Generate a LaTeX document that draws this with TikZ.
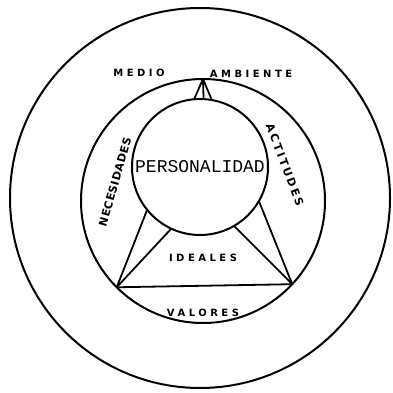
\documentclass[tikz,border=0pt]{standalone}
\usepackage{fontspec}
\newfontfamily\persfont{Liberation Mono}
\newfontfamily\capsfont[LetterSpace=35]{DejaVu Sans}
\newfontfamily\handfont[LetterSpace=5]{DejaVu Sans}
\newfontfamily\widehandfont[LetterSpace=20]{DejaVu Sans}
\begin{document}
\begin{tikzpicture}[x=1pt,y=-1pt,
    ring/.style={draw, circle, line width=2pt, inner sep=0pt, outer sep=0pt},
    tie/.style={line width=1.8pt, line join=round},
    caps/.style={font=\capsfont\bfseries\fontsize{10}{11}\selectfont, inner sep=0pt},
    hand/.style={font=\handfont\bfseries\fontsize{11}{12}\selectfont, inner sep=0pt}]
    \useasboundingbox (0,0) rectangle (392,393);

    % Draw the three circles
    \node[ring, minimum size=380pt] (entorno) at (200,198) {};
    \node[ring, minimum size=244pt] (medio) at (203,201) {};
    \node[ring, minimum size=136pt, font=\persfont\fontsize{18}{20}\selectfont] (pers) at (200,167) {PERSONALIDAD};

    % Triangle corners on the middle circle
    \coordinate (izq) at (medio.225);
    \coordinate (der) at (medio.-43);
    \coordinate (cima) at (medio.90);

    % Draw triangle and ties to the personality
    \draw[tie] (izq) -- (der);
    \draw[tie] (izq) -- (pers.219);
    \draw[tie] (izq) -- (pers.245);
    \draw[tie] (der) -- (pers.-30);
    \draw[tie] (der) -- (pers.-60);
    \foreach \a in {80,87,95} {
      \draw[tie] (cima) -- (pers.\a);
    }

    % Add labels
    \node[caps] (medioLbl) at (139,73) {MEDIO};
    \node[caps] (ambiente) at (251,74) {AMBIENTE};
    \node[caps] (ideales) at (203,258) {IDEALES};
    \node[caps] (valores) at (203,313) {VALORES};
    \node[hand, rotate=74] (necesidades) at (115,182) {NECESIDADES};
    \node[hand, rotate=-69, font=\widehandfont\bfseries\fontsize{11}{12}\selectfont] (actitudes) at (285,165) {ACTITUDES};
\end{tikzpicture}
\end{document}
